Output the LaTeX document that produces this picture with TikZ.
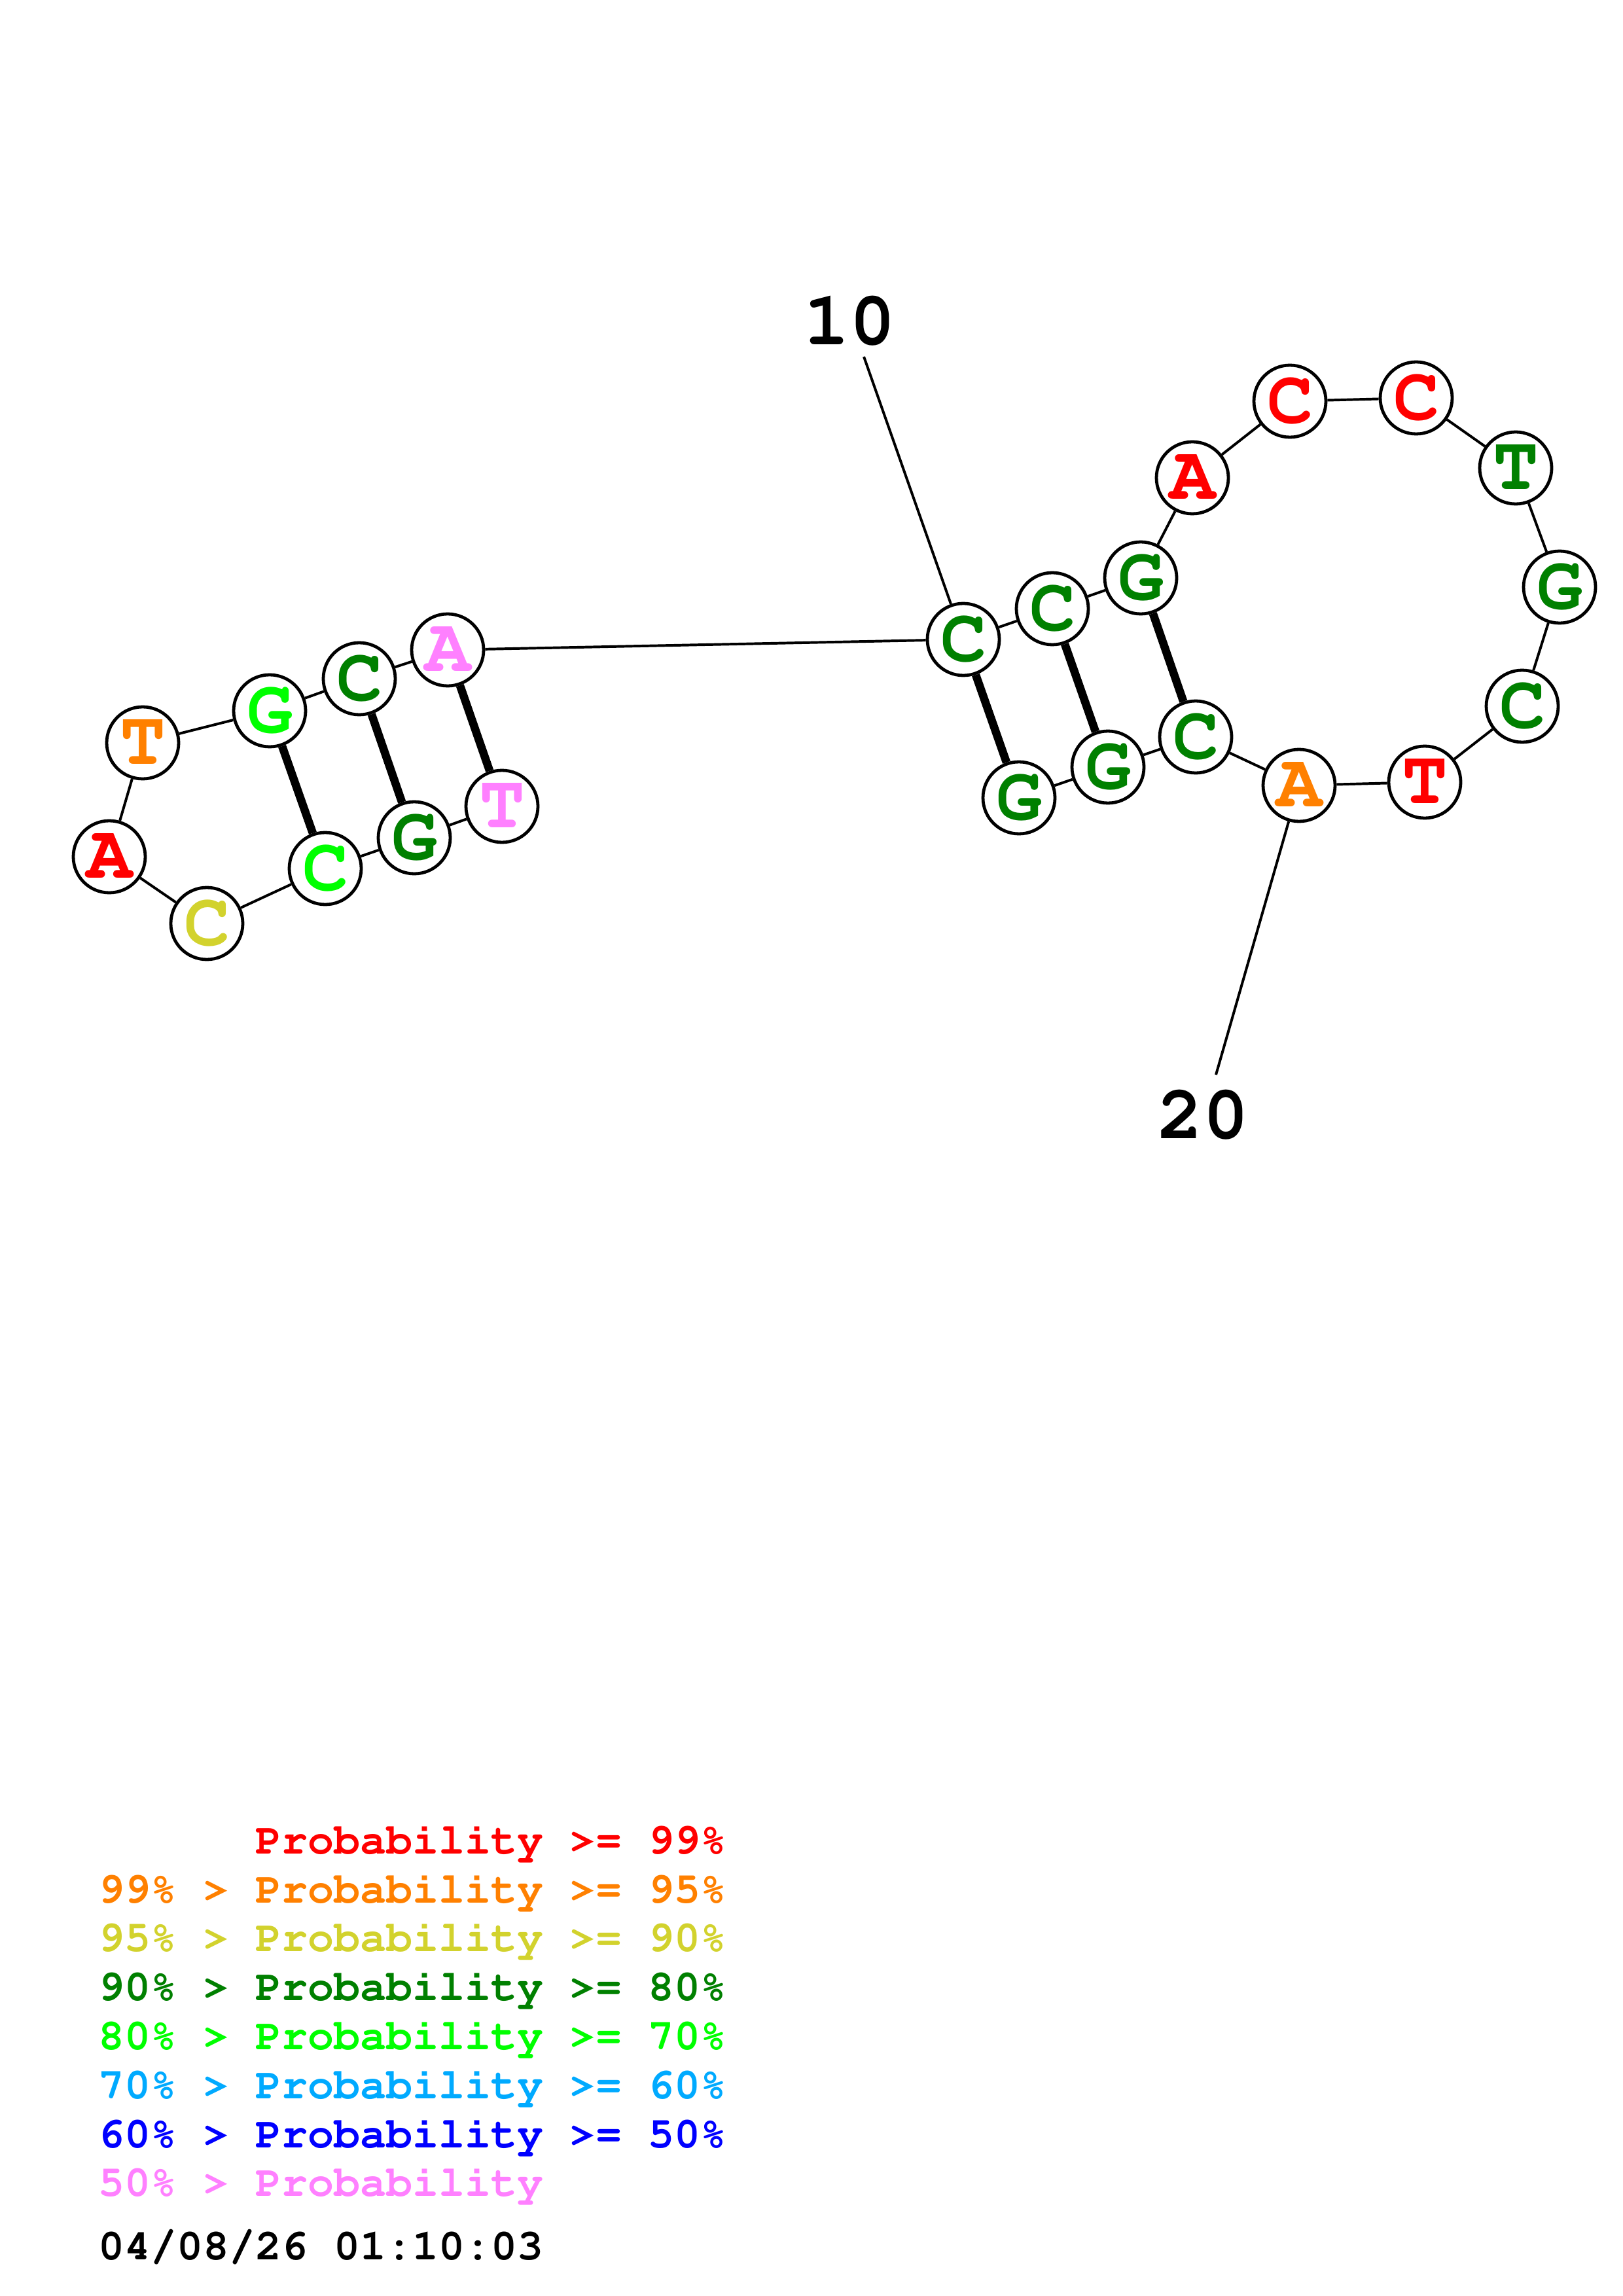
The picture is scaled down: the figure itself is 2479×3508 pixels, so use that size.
\documentclass[tikz,border=0pt]{standalone}
\usepackage[T1]{fontenc}
\usepackage{tikz}
\newcommand{\ntfont}{\fontencoding{T1}\fontfamily{pcr}\fontseries{b}\fontshape{n}\fontsize{28}{28}\selectfont}
\newcommand{\lgfont}{\fontencoding{T1}\fontfamily{pcr}\fontseries{b}\fontshape{n}\fontsize{16}{16}\selectfont}
\definecolor{pRed}{RGB}{255,0,0}
\definecolor{pOrange}{RGB}{255,128,0}
\definecolor{pYellow}{RGB}{210,210,45}
\definecolor{pDGreen}{RGB}{0,128,0}
\definecolor{pGreen}{RGB}{0,255,0}
\definecolor{pLBlue}{RGB}{0,170,255}
\definecolor{pBlue}{RGB}{0,0,255}
\definecolor{pPink}{RGB}{255,128,255}
\tikzset{
  nt/.style={circle, draw=black, line width=1.15pt, fill=white, minimum size=26.4pt, inner sep=0pt, font=\ntfont},
  bb/.style={line width=0.95pt, black},
  bp/.style={line width=3pt, black},
  numlab/.style={inner sep=0pt, font=\ntfont, text=black},
  leg/.style={anchor=base west, inner sep=0pt, font=\lgfont}
}
\begin{document}
\begin{tikzpicture}[x=0.24pt, y=-0.24pt]
\path[use as bounding box, fill=white] (0,0) rectangle (2479,3508);
% nucleotides
\node[nt, text=pPink]   (n1)  at (767,1232) {T};
\node[nt, text=pDGreen] (n2)  at (633,1280) {G};
\node[nt, text=pGreen]  (n3)  at (497,1327) {C};
\node[nt, text=pYellow] (n4)  at (316,1411) {C};
\node[nt, text=pRed]    (n5)  at (167,1309) {A};
\node[nt, text=pOrange] (n6)  at (218,1135) {T};
\node[nt, text=pGreen]  (n7)  at (412,1086) {G};
\node[nt, text=pDGreen] (n8)  at (549,1037) {C};
\node[nt, text=pPink]   (n9)  at (684,993) {A};
\node[nt, text=pDGreen] (n10) at (1472,977) {C};
\node[nt, text=pDGreen] (n11) at (1608,930) {C};
\node[nt, text=pDGreen] (n12) at (1743,883) {G};
\node[nt, text=pRed]    (n13) at (1822,730) {A};
\node[nt, text=pRed]    (n14) at (1971,613) {C};
\node[nt, text=pRed]    (n15) at (2164,608) {C};
\node[nt, text=pDGreen] (n16) at (2316,715) {T};
\node[nt, text=pDGreen] (n17) at (2383,897) {G};
\node[nt, text=pDGreen] (n18) at (2326,1079) {C};
\node[nt, text=pRed]    (n19) at (2177,1195) {T};
\node[nt, text=pOrange] (n20) at (1985,1200) {A};
\node[nt, text=pDGreen] (n21) at (1827,1126) {C};
\node[nt, text=pDGreen] (n22) at (1693,1172) {G};
\node[nt, text=pDGreen] (n23) at (1557,1219) {G};
% backbone
\draw[bb] (n1)--(n2) (n2)--(n3) (n3)--(n4) (n4)--(n5) (n5)--(n6) (n6)--(n7) (n7)--(n8) (n8)--(n9) (n9)--(n10)
  (n10)--(n11) (n11)--(n12) (n12)--(n13) (n13)--(n14) (n14)--(n15) (n15)--(n16) (n16)--(n17) (n17)--(n18)
  (n18)--(n19) (n19)--(n20) (n20)--(n21) (n21)--(n22) (n22)--(n23);
% base pairs
\draw[bp] (n1)--(n9) (n2)--(n8) (n3)--(n7) (n10)--(n23) (n11)--(n22) (n12)--(n21);
% position labels
\node[numlab] (lab10) at (1298,491) {10};
\coordinate (t10) at (1320,545);
\draw[bb] (t10)--(n10);
\node[numlab] (lab20) at (1838,1704) {20};
\coordinate (t20) at (1858,1642);
\draw[bb] (t20)--(n20);
% legend
\node[leg, text=pRed]    (g1) at (150,2832) {\phantom{99\% > }Probability >= 99\%};
\node[leg, text=pOrange] (g2) at (150,2907) {99\% > Probability >= 95\%};
\node[leg, text=pYellow] (g3) at (150,2981) {95\% > Probability >= 90\%};
\node[leg, text=pDGreen] (g4) at (150,3056) {90\% > Probability >= 80\%};
\node[leg, text=pGreen]  (g5) at (150,3131) {80\% > Probability >= 70\%};
\node[leg, text=pLBlue]  (g6) at (150,3206) {70\% > Probability >= 60\%};
\node[leg, text=pBlue]   (g7) at (150,3281) {60\% > Probability >= 50\%};
\node[leg, text=pPink]   (g8) at (150,3355) {50\% > Probability};
\node[leg, text=black]   (g9) at (150,3452) {04/08/26 01:10:03};
\end{tikzpicture}
\end{document}
